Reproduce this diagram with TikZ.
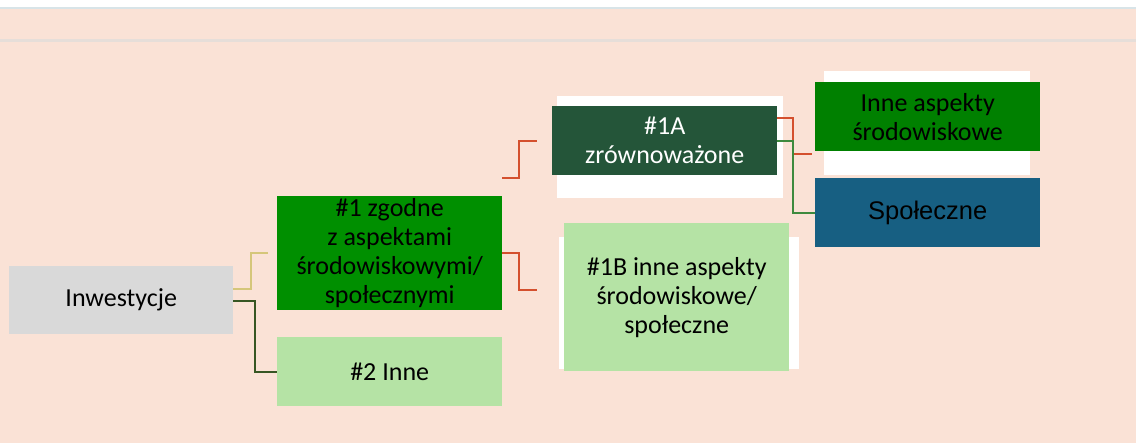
\documentclass[tikz,border=0pt]{standalone}
\usepackage{fontspec}
\setmainfont{Carlito}
\newfontfamily\arialfont{Liberation Sans}
\usetikzlibrary{positioning}

\definecolor{peach}{HTML}{FAE2D6}
\definecolor{topline}{HTML}{D8E4E8}
\definecolor{midline}{HTML}{E6DED9}
\definecolor{inwgrey}{HTML}{D9D9D9}
\definecolor{zgreen}{HTML}{008F00}
\definecolor{lgreen}{HTML}{B5E3A5}
\definecolor{dgreen}{HTML}{245539}
\definecolor{agreen}{HTML}{008000}
\definecolor{sblue}{HTML}{175F82}
\definecolor{lnyellow}{HTML}{D5C67A}
\definecolor{lndark}{HTML}{375623}
\definecolor{lnred}{HTML}{D4502E}
\definecolor{lngreen}{HTML}{3E8A3E}

\begin{document}
\begin{tikzpicture}[x=1pt,y=-1pt,
  box/.style = {anchor=north west, minimum width=225pt, inner sep=0pt, align=center, font=\fontsize{26}{29}\selectfont},
  link/.style = {line width=2pt}]
% background
\useasboundingbox (0,0) rectangle (1136,443);
\fill[white] (0,0) rectangle (1136,443);
\fill[peach] (0,9) rectangle (1136,443);
\fill[topline] (0,7.5) rectangle (1136,9.5);
\fill[midline] (0,39.5) rectangle (1136,42);
% white backings
\fill[white] (557,96) rectangle (783,198);
\fill[white] (559,237) rectangle (799,369);
\fill[white] (824,71) rectangle (1030,175);
% boxes
\node[box, fill=inwgrey, minimum width=224pt, minimum height=68pt] (inw) at (9,266) {Inwestycje};
\node[box, fill=zgreen, minimum height=114pt] (zg) at (277,196) {\#1 zgodne\\z aspektami\\środowiskowymi/\\społecznymi};
\node[box, fill=lgreen, minimum height=69pt] (inne) at (277,337) {\#2 Inne};
\node[box, fill=dgreen, minimum height=69pt, text=white] (a1) at (552,106) {\#1A\\zrównoważone};
\node[box, fill=lgreen, minimum height=148pt] (b1) at (564,223) {\#1B inne aspekty\\środowiskowe/\\społeczne};
\node[box, fill=agreen, minimum height=69pt] (ias) at (815,82) {Inne aspekty\\środowiskowe};
\node[box, fill=sblue, minimum height=69pt, font=\arialfont\fontsize{25.5}{29}\selectfont] (spo) at (815,178) {Społeczne};
% connectors
\draw[link, lnyellow] ([yshift=11pt]inw.east) -- ++(18,0) |- ([xshift=-9pt]zg.west);
\draw[link, lndark] ([yshift=-1pt]inw.east) -- ++(22,0) |- (inne.west);
\draw[link, lnred] ([yshift=18pt]zg.north east) -- ++(17,0) |- ([xshift=-15pt]a1.west);
\draw[link, lnred] (zg.east) -- ++(17,0) |- ([xshift=-27pt,yshift=7pt]b1.west);
\draw[link, lnred] ([yshift=23pt]a1.east) -- ++(16,0) |- ([shift={(-3pt,-3pt)}]ias.south west);
\draw[link, lngreen] (a1.east) -- ++(16,0) |- (spo.west);
\end{tikzpicture}
\end{document}
